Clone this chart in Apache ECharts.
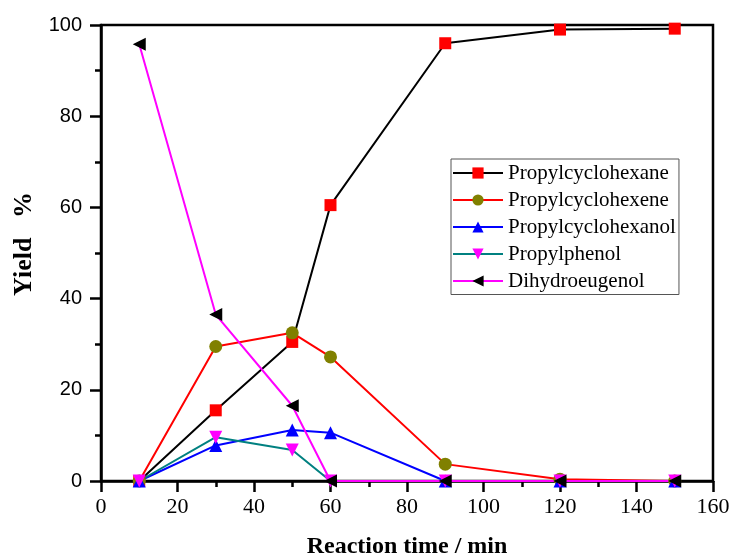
<!DOCTYPE html>
<html><head><meta charset="utf-8">
<script src="https://cdn.jsdelivr.net/npm/echarts@6/dist/echarts.min.js"></script>
<style>html,body{margin:0;padding:0;background:#fff}#c{width:732px;height:556px}</style>
</head><body><div id="c"></div>
<script>
const times = [10, 30, 50, 60, 90, 120, 150];
const propylcyclohexane = [0, 15.5, 30.5, 60.5, 96, 99, 99.2];
const propylcyclohexene = [0, 29.5, 32.5, 27.2, 3.7, 0.4, 0];
const propylcyclohexanol = [0, 7.8, 11.2, 10.6, 0, 0, 0];
const propylphenol = [0, 9.6, 6.8, 0, 0, 0, 0];
const dihydroeugenol = [95.8, 36.5, 16.5, 0, 0, 0, 0];
const xTicks = [0, 20, 40, 60, 80, 100, 120, 140, 160];
const yTicks = [0, 20, 40, 60, 80, 100];

const serif = 'Liberation Serif';
const sans = 'Liberation Sans';
function mk(name, vals, lineColor, symColor, symbol, size, rot) {
  return {
    name, type: 'line',
    data: times.map((t, i) => [t, vals[i]]),
    symbol, symbolSize: size, symbolRotate: rot || 0,
    lineStyle: { color: lineColor, width: 2 },
    itemStyle: { color: symColor },
    color: symColor,
    animation: false
  };
}
const chart = echarts.init(document.getElementById('c'));
chart.setOption({
  backgroundColor: '#fff',
  animation: false,
  grid: { left: 101, right: 19, top: 25, bottom: 75, outerBoundsMode: 'none', containLabel: false, show: true, borderColor: '#000', borderWidth: 2.5, backgroundColor: 'transparent' },
  legend: {
    left: 451, top: 159, orient: 'vertical',
    itemWidth: 50, itemHeight: 14, itemGap: 6,
    padding: [3.5, 3, 3, 1],
    borderColor: '#555', borderWidth: 1,
    textStyle: { fontFamily: serif, fontSize: 21, color: '#000' },
    data: ['Propylcyclohexane', 'Propylcyclohexene', 'Propylcyclohexanol', 'Propylphenol', 'Dihydroeugenol']
  },
  xAxis: {
    type: 'value', min: xTicks[0], max: xTicks[xTicks.length - 1], interval: 20,
    name: 'Reaction time / min', nameLocation: 'middle', nameGap: 54,
    nameTextStyle: { fontFamily: serif, fontSize: 24, fontWeight: 'bold', color: '#000' },
    axisLine: { lineStyle: { color: '#000', width: 2.5 } },
    axisTick: { inside: false, length: 11, lineStyle: { width: 2.5, color: '#000' } },
    minorTick: { show: true, splitNumber: 2, length: 6, lineStyle: { width: 2.5, color: '#000' } },
    splitLine: { show: false },
    axisLabel: { fontFamily: serif, fontSize: 22, color: '#000', margin: 15 }
  },
  yAxis: {
    type: 'value', min: yTicks[0], max: yTicks[yTicks.length - 1], interval: 20,
    name: 'Yield   %', nameLocation: 'middle', nameGap: 64,
    nameTextStyle: { fontFamily: serif, fontSize: 26, fontWeight: 'bold', color: '#000', padding: [0, 0, 0, 18] },
    axisLine: { show: true, lineStyle: { color: '#000', width: 2.5 } },
    axisTick: { show: true, inside: false, length: 11, lineStyle: { width: 2.5, color: '#000' } },
    minorTick: { show: true, splitNumber: 2, length: 6, lineStyle: { width: 2.5, color: '#000' } },
    splitLine: { show: false },
    axisLabel: { fontFamily: sans, fontSize: 20, color: '#000', margin: 19 }
  },
  series: [
    mk('Propylcyclohexane', propylcyclohexane, '#000', '#ff0000', 'rect', 12),
    mk('Propylcyclohexene', propylcyclohexene, '#ff0000', '#808000', 'circle', 13),
    mk('Propylcyclohexanol', propylcyclohexanol, '#0000ff', '#0000ff', 'triangle', 13),
    mk('Propylphenol', propylphenol, '#008080', '#ff00ff', 'triangle', 13, 180),
    mk('Dihydroeugenol', dihydroeugenol, '#ff00ff', '#000', 'triangle', 13, 90)
  ]
});
</script></body></html>
